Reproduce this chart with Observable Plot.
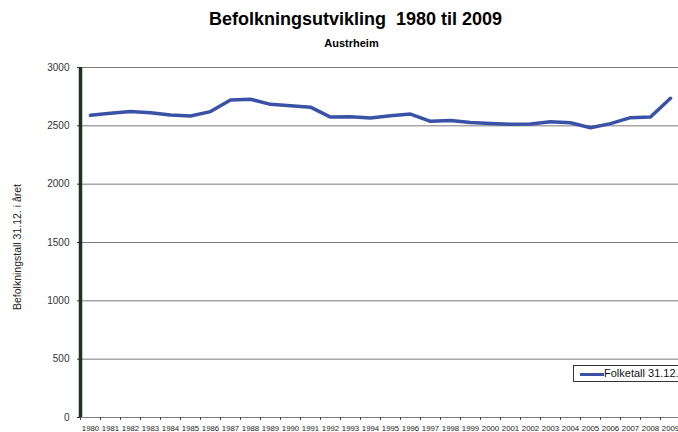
<!DOCTYPE html>
<html>
<head>
<meta charset="utf-8">
<script src="https://cdn.jsdelivr.net/npm/d3@7"></script>
<script src="https://cdn.jsdelivr.net/npm/@observablehq/plot@0.6"></script>
<style>
  html, body { margin: 0; padding: 0; background: #fff; }
  #wrap { position: relative; width: 678px; height: 432px; overflow: hidden; font-family: "Liberation Sans", Arial, sans-serif; }
  #wrap svg { position: absolute; left: 0; top: 0; }
  .title { position: absolute; top: 9px; left: 0; width: 711px; text-align: center; font-weight: bold; font-size: 18px; color: #000; white-space: pre; }
  .subtitle { position: absolute; top: 37px; left: 0; width: 703px; text-align: center; font-weight: bold; font-size: 11px; color: #000; }
  .ylabel { position: absolute; left: 17px; top: 247px; transform: translate(-50%, -50%) rotate(-90deg); font-size: 10.5px; color: #222; white-space: nowrap; }
  .legend { position: absolute; left: 573px; top: 365px; width: 120px; height: 17px; border: 1px solid #333; background: #fff; box-sizing: border-box; font-size: 11px; color: #111; }
  .legend .sw { position: absolute; left: 6px; top: 6.5px; width: 24px; height: 3.5px; background: #3a52a6; }
  .legend .lt { position: absolute; left: 30px; top: 1px; }
</style>
</head>
<body>
<div id="wrap"></div>
<script>
const years = [1980,1981,1982,1983,1984,1985,1986,1987,1988,1989,1990,1991,1992,1993,1994,1995,1996,1997,1998,1999,2000,2001,2002,2003,2004,2005,2006,2007,2008,2009];
const population = [2590,2608,2623,2612,2592,2584,2622,2721,2728,2684,2673,2660,2575,2577,2567,2587,2601,2539,2545,2528,2521,2513,2516,2535,2527,2484,2519,2570,2575,2736];
const yTicks = [0,500,1000,1500,2000,2500,3000];
const titleText = "Befolkningsutvikling  1980 til 2009";
const subtitleText = "Austrheim";
const yLabelText = "Befolkningstall 31.12. i året";
const legendText = "Folketall 31.12.";

const data = years.map((y, i) => ({year: y, value: population[i]}));

const chart = Plot.plot({
  width: 678,
  height: 432,
  marginTop: 67,
  marginBottom: 15,
  marginLeft: 80,
  marginRight: 0,
  style: {fontFamily: "'Liberation Sans', Arial, sans-serif", background: "transparent", overflow: "visible"},
  x: {type: "band", domain: years, range: [80, 680], padding: 0},
  y: {domain: [0, 3000], ticks: yTicks},
  marks: [
    Plot.ruleY(yTicks, {stroke: "#7a7a7a", strokeWidth: 1}),
    Plot.axisY({ticks: yTicks, tickSize: 3, tickPadding: 8, fontSize: 10, stroke: "#1b3320", color: "#333", tickFormat: d => String(d), label: null}),
    Plot.axisX({ticks: years, tickSize: 3, tickFormat: () => "", dx: -10, stroke: "#444", label: null}),
    Plot.axisX({ticks: years, tickSize: 0, tickPadding: 8, fontSize: 7.8, color: "#222", tickFormat: d => String(d), label: null}),
    Plot.ruleX([years[0]], {dx: -10, stroke: "#1b3320", strokeWidth: 3.5}),
    Plot.line(data, {x: "year", y: "value", stroke: "#3a52a6", strokeWidth: 3.5, curve: "linear"})
  ]
});

const wrap = document.getElementById("wrap");
wrap.appendChild(chart);
const t = document.createElement("div"); t.className = "title"; t.textContent = titleText; wrap.appendChild(t);
const s = document.createElement("div"); s.className = "subtitle"; s.textContent = subtitleText; wrap.appendChild(s);
const yl = document.createElement("div"); yl.className = "ylabel"; yl.textContent = yLabelText; wrap.appendChild(yl);
const lg = document.createElement("div"); lg.className = "legend";
lg.innerHTML = '<div class="sw"></div><div class="lt"></div>';
lg.querySelector(".lt").textContent = legendText;
wrap.appendChild(lg);
</script>
</body>
</html>
